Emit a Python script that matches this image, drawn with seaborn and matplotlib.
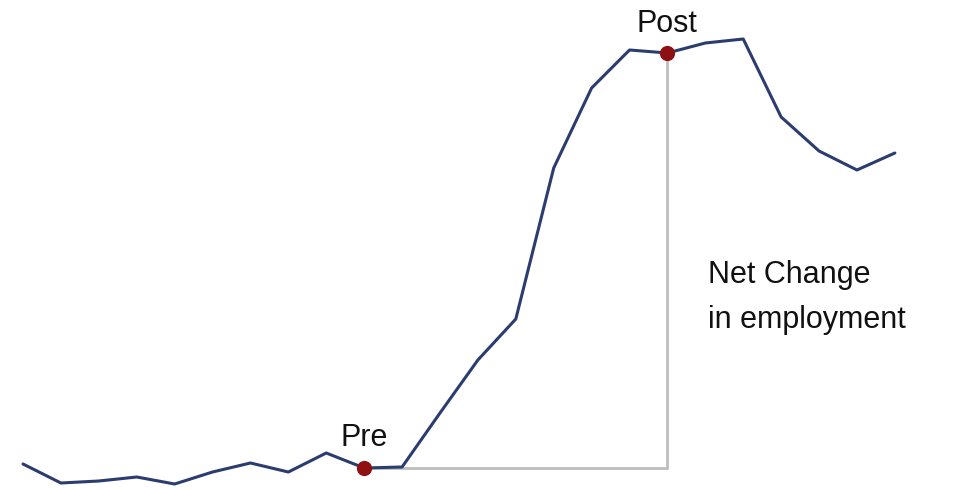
import matplotlib
matplotlib.use("Agg")
import matplotlib.pyplot as plt
import seaborn as sns
import pandas as pd
import numpy as np

# data (employment level, arbitrary units)
period = list(range(24))
employment = [26, 7, 9, 13, 6, 18, 27, 18, 37, 22, 23, 77, 130, 171,
              322, 402, 440, 437, 447, 451, 373, 339, 320, 337]
pre_idx = 9
post_idx = 17
labels = ["Pre", "Post"]
note_lines = ["Net Change", "in employment"]

sns.set_theme(style="white")
plt.rcParams['font.family'] = ['Liberation Sans', 'DejaVu Sans']

df = pd.DataFrame({"period": period, "employment": employment})

fig = plt.figure(figsize=(9.54, 4.90), dpi=100)
ax = fig.add_axes([0, 0, 1, 1])

pre_y = employment[pre_idx]
post_y = employment[post_idx]
gray = "#bdbdbd"
ax.plot([pre_idx, post_idx], [pre_y, pre_y], color=gray, lw=2, zorder=1)
ax.plot([post_idx, post_idx], [pre_y, post_y], color=gray, lw=2, zorder=1)

sns.lineplot(data=df, x="period", y="employment", ax=ax, color="#2b3d6e",
             lw=2.2, zorder=2)

ax.scatter([pre_idx, post_idx], [pre_y, post_y], s=120, color="#8e1012",
           zorder=3, linewidths=0)

fs = 22
ax.text(pre_idx, 44, labels[0], ha="center", va="baseline", fontsize=fs, color="#111111")
ax.text(post_idx, 458, labels[1], ha="center", va="baseline", fontsize=fs, color="#111111")
ax.text(18.07, 207, note_lines[0], ha="left", va="baseline", fontsize=fs, color="#111111")
ax.text(18.07, 162, note_lines[1], ha="left", va="baseline", fontsize=fs, color="#111111")

ax.set_xlim(-0.607, 24.56)
ax.set_ylim(0, 490)
ax.axis("off")

fig.savefig("out.png", dpi=100)
